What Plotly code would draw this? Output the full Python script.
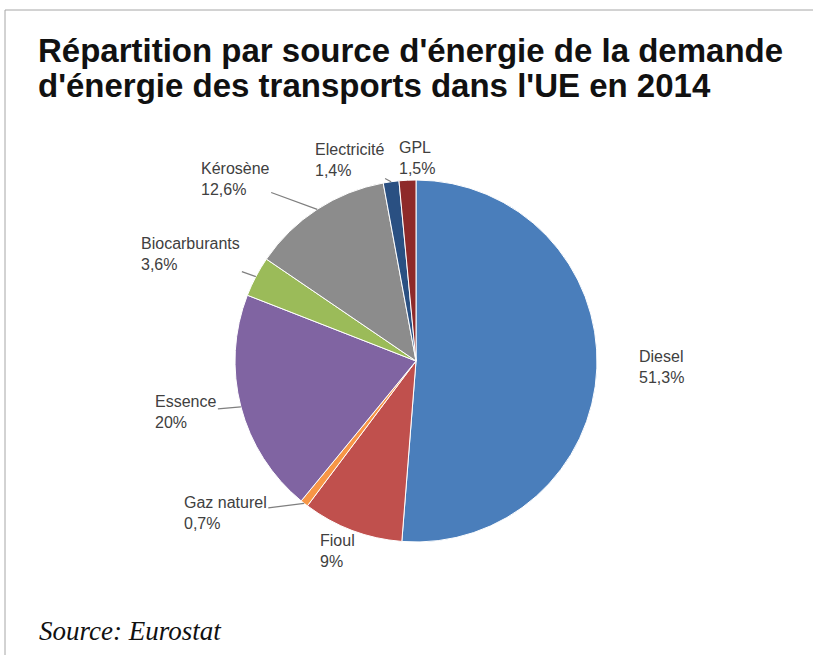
import math
import plotly.graph_objects as go

# ---- data ----
labels = ["Diesel", "Fioul", "Gaz naturel", "Essence", "Biocarburants",
          "Kérosène", "Electricité", "GPL"]
values = [51.3, 9.0, 0.7, 20.0, 3.6, 12.6, 1.4, 1.5]
value_text = ["51,3%", "9%", "0,7%", "20%", "3,6%", "12,6%", "1,4%", "1,5%"]

# ---- styling ----
colors = ["#4A7EBB", "#C0504D", "#F79646", "#8064A2", "#9BBB59",
          "#8C8C8C", "#2A5082", "#8E2A2A"]
# label offsets (px) relative to the slice edge point, and whether a leader line is drawn
label_offsets = [(65, -1), (-15, 21), (-79, 10), (-55, 5), (-65, -23),
                 (-82, -30), (-42, -22), (10, -22)]
leader = [False, False, True, True, True, True, True, False]

W, H = 813, 655
CX, CY, R = 416, 361, 181  # pie centre and radius in pixels

fig = go.Figure()
fig.add_trace(go.Pie(
    labels=labels, values=values, sort=False, direction="clockwise",
    rotation=0, textinfo="none", hoverinfo="label+percent",
    marker=dict(colors=colors, line=dict(color="white", width=1)),
    domain=dict(x=[(CX - R) / W, (CX + R) / W], y=[1 - (CY + R) / H, 1 - (CY - R) / H]),
    showlegend=False,
))

total = sum(values)
cum = 0.0
annotations = []
for lab, v, vt, off, ld in zip(labels, values, value_text, label_offsets, leader):
    mid = (cum + v / 2) / total * 2 * math.pi
    cum += v
    px = CX + R * math.sin(mid)
    py = CY - R * math.cos(mid)
    annotations.append(dict(
        x=px / W, y=1 - py / H, xref="paper", yref="paper",
        text=f"{lab}<br>{vt}", align="left",
        showarrow=True, ax=off[0], ay=off[1], arrowhead=0, arrowwidth=1.2,
        arrowcolor="#7F7F7F" if ld else "rgba(0,0,0,0)", standoff=0,
        font=dict(family="Arial, Liberation Sans", size=16, color="#404040"),
    ))

title_lines = ["Répartition par source d'énergie de la demande",
               "d'énergie des transports dans l'UE en 2014"]
for line, yc in zip(title_lines, [50, 86]):
    annotations.append(dict(
        x=36 / W, y=1 - yc / H, xref="paper", yref="paper", xanchor="left", yanchor="middle",
        text=f"<b>{line}</b>", align="left", showarrow=False,
        font=dict(family="Arial, Liberation Sans", size=33, color="#111111"),
    ))
annotations.append(dict(
    x=37 / W, y=1 - 631 / H, xref="paper", yref="paper", xanchor="left", yanchor="middle",
    text="<i>Source: Eurostat</i>", showarrow=False,
    font=dict(family="Times New Roman, Liberation Serif", size=27, color="#111111"),
))

shapes = [
    dict(type="line", xref="paper", yref="paper", x0=5 / W, x1=1, y0=1 - 10 / H, y1=1 - 10 / H,
         line=dict(color="#A6A6A6", width=1)),
    dict(type="line", xref="paper", yref="paper", x0=5 / W, x1=5 / W, y0=1 - 10 / H, y1=0,
         line=dict(color="#A6A6A6", width=1)),
]

fig.update_layout(
    width=W, height=H, margin=dict(l=0, r=0, t=0, b=0),
    paper_bgcolor="white", plot_bgcolor="white",
    annotations=annotations, shapes=shapes,
)

fig.write_html("out.html", config={"displayModeBar": False},
               post_script="document.body.style.margin='0';document.body.style.overflow='hidden';")
